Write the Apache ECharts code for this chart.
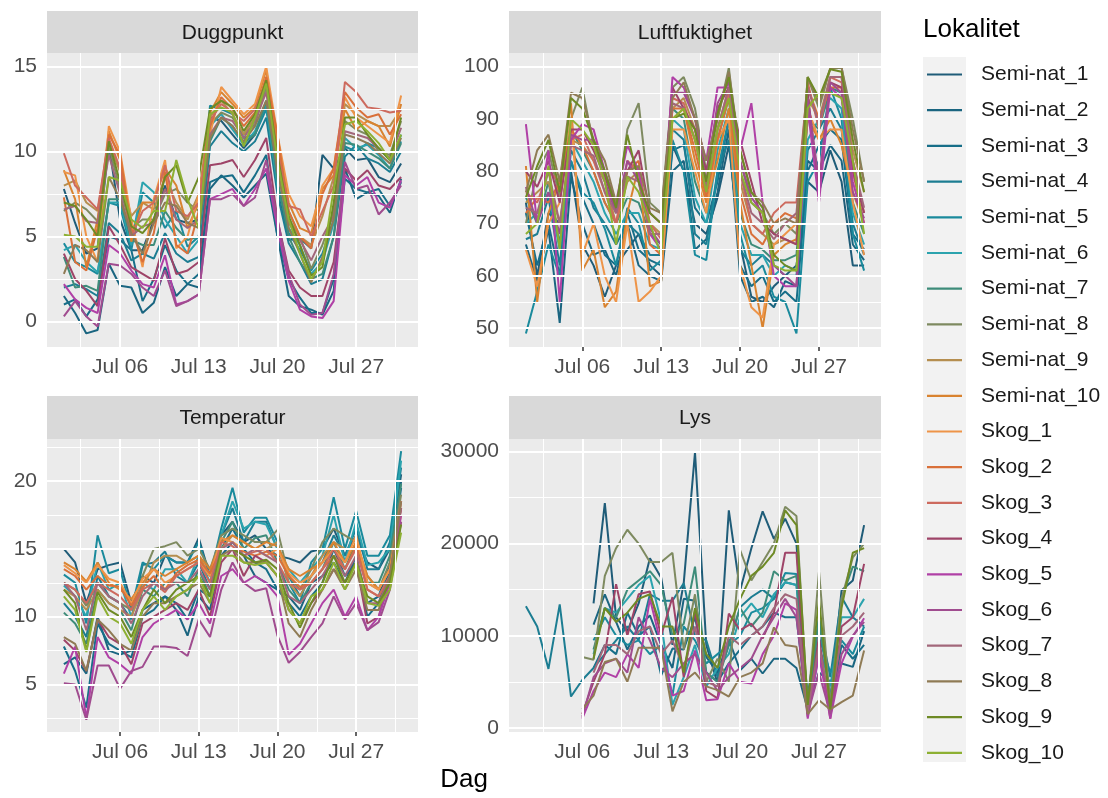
<!DOCTYPE html>
<html><head><meta charset="utf-8">
<script src="https://cdn.jsdelivr.net/npm/echarts@6/dist/echarts.min.js"></script>
<style>html,body{margin:0;padding:0;background:#fff}#c{width:1108px;height:798px}</style>
</head><body><div id="c"></div>
<script>
const DAYS = [1,2,3,4,5,6,7,8,9,10,11,12,13,14,15,16,17,18,19,20,21,22,23,24,25,26,27,28,29,30,31];
const SITES = ['Semi-nat_1','Semi-nat_2','Semi-nat_3','Semi-nat_4','Semi-nat_5','Semi-nat_6','Semi-nat_7','Semi-nat_8','Semi-nat_9','Semi-nat_10','Skog_1','Skog_2','Skog_3','Skog_4','Skog_5','Skog_6','Skog_7','Skog_8','Skog_9','Skog_10'];
const COLORS = ['#1F5C78','#1A6580','#176E88','#1C7D92','#1A8A9C','#2BA3AE','#3E8C7A','#7E8A60','#B58E4F','#D98330','#EE9448','#D9703A','#CD6A5E','#9E4468','#B040A6','#A04C8F','#A2677A','#8F7B55','#6E8A25','#8DB032'];
const PANELS = ['Duggpunkt','Luftfuktighet','Temperatur','Lys'];
const X_TICKS = [6,13,20,27];
const X_TICK_LABELS = ['Jul 06','Jul 13','Jul 20','Jul 27'];
const X_MINOR = [2.5,9.5,16.5,23.5,30.5];
const Y_TICKS_DP = [0,5,10,15];
const Y_TICKS_LF = [50,60,70,80,90,100];
const Y_TICKS_TP = [5,10,15,20];
const Y_TICKS_LY = [0,10000,20000,30000];
const Y_MINOR_DP = [2.5,7.5,12.5];
const Y_MINOR_LF = [55,65,75,85,95];
const Y_MINOR_TP = [2.5,7.5,12.5,17.5,22.5];
const Y_MINOR_LY = [5000,15000,25000];

// Duggpunkt
const DP_SN1 = [7.8,5.8,4.0,4.3,10.4,6.0,4.2,4.2,6.0,8.0,6.0,5.8,6.0,12.0,11.8,11.0,10.2,11.0,12.8,8.0,4.8,4.9,4.3,9.8,9.0,10.2,9.5,9.6,8.5,8.2,9.3];
const DP_SN2 = [1.5,0.5,-0.7,-0.5,3.4,2.1,2.0,0.5,1.1,3.2,1.5,2.2,2.0,7.8,8.6,8.0,7.3,8.0,8.7,5.0,1.5,0.9,0.7,0.4,1.8,9.0,7.2,7.6,7.4,6.4,8.4];
const DP_SN3 = [1.0,1.3,0.3,1.3,5.0,4.8,4.2,1.2,2.5,4.5,3.0,2.2,2.8,8.2,8.5,8.6,7.6,8.6,9.8,5.0,2.5,1.4,0.5,0.5,2.5,8.4,7.8,7.6,7.8,6.8,8.2];
const DP_SN4 = [2.0,2.2,1.9,1.5,5.8,5.2,3.6,4.0,3.7,5.2,4.0,3.5,3.8,10.3,11.2,10.5,10.0,10.6,12.0,7.5,4.6,3.5,2.2,2.5,5.0,9.7,10.4,9.6,9.3,8.8,10.0];
const DP_SN5 = [4.6,3.5,3.2,2.8,7.0,6.8,4.2,7.6,7.0,5.5,6.5,4.4,5.0,12.7,12.5,12.2,10.8,11.0,12.5,8.2,5.2,4.2,3.0,4.0,6.0,10.3,10.0,10.5,10.2,9.5,10.6];
const DP_SN6 = [4.2,4.5,3.5,2.9,7.0,7.0,4.5,8.2,7.6,6.0,5.0,4.0,4.8,11.5,12.2,11.3,10.4,11.2,12.8,8.0,5.5,4.5,2.8,3.5,5.8,10.8,10.2,10.4,9.8,9.0,11.0];
const DP_SN7 = [3.8,2.0,2.1,1.8,7.2,7.2,4.8,4.5,4.5,6.5,5.5,4.8,5.0,10.6,12.0,11.5,10.5,11.0,13.0,8.3,5.0,3.5,2.5,2.8,5.0,10.5,10.4,10.0,9.6,9.0,10.5];
const DP_SN8 = [6.5,7.0,6.6,5.9,10.3,7.8,5.5,6.0,6.0,7.5,7.8,7.0,6.5,11.6,12.3,12.0,11.0,11.6,13.8,9.5,6.5,5.0,3.1,4.5,6.5,11.8,11.3,11.0,10.0,9.8,11.8];
const DP_SN9 = [8.0,8.3,7.0,6.5,10.5,8.8,6.2,7.0,6.6,8.5,7.0,6.0,7.5,12.0,13.0,12.2,11.0,12.0,14.2,10.2,6.0,5.0,4.5,6.2,8.5,12.8,12.2,11.8,11.5,11.5,12.5];
const DP_SN10 = [8.9,7.2,3.2,6.0,11.2,9.5,4.7,7.0,7.0,9.0,8.0,5.5,7.0,12.3,13.5,12.8,12.0,12.6,14.8,10.5,7.0,5.5,5.2,7.8,8.6,12.5,11.3,11.8,11.5,10.3,12.8];
const DP_SK1 = [8.8,8.6,5.0,3.5,11.5,10.0,6.0,3.2,7.2,9.5,4.3,5.0,7.5,11.0,13.8,13.0,12.2,12.8,15.0,11.0,7.5,6.2,5.6,8.0,9.0,13.2,12.0,11.5,11.0,10.5,13.3];
const DP_SK2 = [7.3,3.5,3.0,5.5,11.0,9.8,5.5,3.5,5.2,8.8,4.5,4.0,6.5,11.5,13.2,12.5,11.5,12.3,14.4,11.0,6.5,5.0,4.3,7.5,9.0,13.5,12.6,12.0,12.2,11.0,12.2];
const DP_SK3 = [9.9,8.0,7.3,6.6,10.8,9.0,5.0,6.5,7.0,9.2,6.5,6.2,7.0,11.8,12.8,12.3,11.8,12.5,14.0,10.0,6.8,6.6,5.0,6.5,8.0,14.1,13.5,12.6,12.5,12.3,12.4];
const DP_SK4 = [4.0,2.5,1.8,0.9,5.6,4.5,3.2,2.8,2.4,4.9,2.8,3.0,3.5,9.2,9.3,9.5,8.5,9.5,10.8,6.0,3.0,2.0,1.5,1.5,3.5,9.0,8.3,8.9,8.0,7.8,8.5];
const DP_SK5 = [2.2,1.3,0.8,0.5,4.5,4.0,3.0,2.2,2.0,3.9,1.0,1.2,1.6,7.2,7.5,7.8,6.8,7.8,9.0,5.5,2.4,0.7,0.3,0.2,1.2,8.6,8.0,8.5,7.0,6.7,8.3];
const DP_SK6 = [0.3,1.2,0.3,-0.3,3.4,3.3,2.8,2.0,1.5,3.0,0.9,1.2,1.6,7.2,7.2,7.5,6.8,7.3,9.5,6.0,2.8,1.0,0.4,0.5,2.8,9.4,7.8,8.0,6.3,7.0,8.0];
const DP_SK7 = [6.6,6.8,5.9,5.8,9.8,7.5,5.0,5.6,5.8,7.8,6.0,5.5,6.0,11.0,12.0,11.8,10.8,11.8,13.5,8.8,5.8,4.8,3.6,5.0,6.2,11.2,11.0,10.8,10.2,9.6,11.4];
const DP_SK8 = [2.8,4.5,4.2,3.5,8.5,7.2,5.2,4.0,5.8,7.0,6.8,5.8,5.5,10.8,12.0,11.5,10.6,11.5,13.0,9.0,5.5,4.0,2.3,3.8,6.0,11.0,10.8,10.5,9.9,9.3,10.8];
const DP_SK9 = [7.0,6.8,6.0,5.0,10.6,8.2,5.6,5.2,6.0,8.5,9.2,7.0,8.5,12.5,13.0,12.6,11.2,12.2,14.2,9.8,6.2,4.5,2.7,3.2,7.0,12.0,12.0,11.0,10.2,9.5,12.0];
const DP_SK10 = [5.1,5.0,4.4,4.4,8.5,8.3,6.0,5.5,6.5,6.5,9.5,7.2,5.5,12.2,12.6,12.3,10.3,12.0,14.0,9.5,6.0,4.0,2.5,3.5,7.8,11.6,11.8,11.2,10.5,9.5,11.0];

// Luftfuktighet
const LF_SN1 = [74,60,72,70,80,66,62,56,62,65,68,62,60,85,80,70,68,75,85,66,56,55,58,60,62,78,76,84,78,62,62];
const LF_SN2 = [66,59,69,51,79,70,64,65,60,70,62,60,59,80,82,65,67,76,88,60,55,56,54,59,58,82,80,85,82,66,63];
const LF_SN3 = [72,62,70,60,82,75,70,64,62,72,65,63,62,84,85,73,70,78,90,62,58,60,55,57,55,80,85,88,86,68,65];
const LF_SN4 = [67,68,75,62,84,80,73,70,66,70,68,64,64,88,86,68,66,80,86,65,62,64,62,60,60,84,88,92,88,70,64];
const LF_SN5 = [49,57,66,60,82,76,74,69,62,73,70,61,63,86,80,64,63,80,90,68,60,62,56,55,49,78,82,96,90,68,61];
const LF_SN6 = [70,72,76,65,86,82,78,72,68,72,72,66,65,90,88,75,70,84,92,70,64,64,60,62,61,86,90,94,92,72,66];
const LF_SN7 = [75,70,78,66,88,84,80,74,70,75,74,68,66,92,90,78,72,86,94,72,66,65,63,63,64,90,88,96,95,74,68];
const LF_SN8 = [70,80,84,75,90,96,85,80,72,88,93,74,72,96,98,92,80,90,99.8,82,74,72,68,70,68,98,92,99.6,99.8,90,78];
const LF_SN9 = [74,76,78,70,86,85,82,78,70,78,80,70,68,92,94,88,76,88,96,78,70,68,66,67,66,94,90,98,98,84,76];
const LF_SN10 = [81,55,72,78,93,61,65,54,57,72,81,58,59,90,92,82,74,82,92,74,62,50,64,66,67,90,86,90,85,76,70];
const LF_SK1 = [65,58,70,74,90,64,70,60,55,70,55,57,60,88,88,80,72,86,90,62,54,52,66,68,70,92,86,88,88,74,64];
const LF_SK2 = [72,75,74,78,88,85,80,74,70,80,82,66,64,92,92,84,75,86,94,76,68,66,70,72,71,96,90,96,96,80,70];
const LF_SK3 = [76,74,80,78,86,87,82,76,70,82,80,70,67,94,93,86,76,88,95,80,70,68,72,74,74,97,88,98,97,82,72];
const LF_SK4 = [80,77,82,74,88,88,84,79,73,80,84,72,70,96,92,88,80,92,96,86,78,70,68,67,66,95,76,97,96,80,72];
const LF_SK5 = [89,70,84,55,86,89,88,80,74,85,80,68,65,98,96,90,82,96,96,84,93,74,60,58,58,92,74,96,94,78,70];
const LF_SK6 = [77,70,76,68,87,86,86,78,72,82,78,69,66,95,95,90,78,93,97,82,75,72,62,60,58,94,78,97,95,76,71];
const LF_SK7 = [73,72,80,70,85,84,83,76,72,79,78,68,68,93,92,86,77,88,96,80,72,70,67,70,72,96,89,98,98,82,73];
const LF_SK8 = [76,84,87,78,95,94,86,82,74,80,81,73,72,94,97,90,82,90,99,84,76,74,70,71,70,98,93,99.7,99.9,88,78];
const LF_SK9 = [75,81,86,76,94,92,86,80,73,87,78,72,70,90,91,88,78,91,98,84,76,73,64,62,61,98,94,99.5,99,86,76];
const LF_SK10 = [68,70,81,65,90,88,85,78,66,79,76,70,64,90,92,86,76,88,94,80,74,72,62,61,61,92,95,95,94,82,68];

// Temperatur
const TP_SN1 = [15.0,14.0,11.0,13.5,13.8,14.0,11.0,13.0,12.5,14.5,14.0,14.0,15.8,13.0,16.0,17.0,15.5,16.0,15.0,14.5,14.3,14.0,14.8,15.0,16.5,14.5,16.0,14.0,13.5,15.0,20.5];
const TP_SN2 = [6.5,7.0,5.8,10.0,7.5,7.2,7.5,10.5,11.0,11.5,10.5,8.6,11.5,10.5,14.5,15.5,14.5,13.0,12.5,12.0,11.5,10.5,12.5,13.0,14.0,12.5,14.5,11.0,11.5,14.0,20.0];
const TP_SN3 = [7.8,6.0,3.3,9.5,8.0,7.5,7.0,10.0,10.5,11.5,11.0,9.8,12.0,11.5,15.0,16.5,15.0,14.0,13.5,12.0,11.0,10.0,11.5,12.5,15.0,13.0,14.0,10.0,11.0,13.5,19.5];
const TP_SN4 = [11.0,10.0,8.5,13.0,11.5,11.0,9.8,13.8,14.0,14.8,13.0,12.5,14.0,12.0,16.0,18.0,15.5,17.0,17.0,15.0,13.0,11.5,13.0,14.0,16.0,14.5,16.5,13.5,13.5,15.5,21.0];
const TP_SN5 = [13.1,12.5,9.5,16.0,13.2,13.5,10.5,14.0,13.5,14.5,14.0,14.0,15.5,13.0,16.5,19.5,16.2,17.3,17.3,15.5,12.5,11.0,14.0,15.0,18.8,15.0,17.8,14.5,14.5,16.0,22.2];
const TP_SN6 = [12.3,11.5,10.0,14.0,12.0,12.5,10.0,12.5,12.0,13.5,13.5,12.5,14.5,12.5,16.0,18.5,16.5,17.0,16.8,15.0,13.5,12.5,13.5,14.5,17.5,14.0,17.0,13.8,14.0,15.0,21.5];
const TP_SN7 = [10.3,9.5,8.0,12.0,11.0,10.5,9.0,12.0,11.5,12.5,12.5,11.5,13.5,11.5,15.5,17.0,15.0,15.8,16.0,14.0,12.0,11.0,12.5,13.5,15.5,13.5,15.5,12.5,12.5,14.5,19.8];
const TP_SN8 = [12.5,12.0,10.8,12.5,11.5,11.0,10.5,13.0,15.0,15.2,15.5,14.5,15.0,13.5,16.0,16.5,16.0,15.5,15.5,16.4,13.0,12.0,13.5,15.5,16.5,16.0,15.5,13.0,12.0,14.0,19.0];
const TP_SN9 = [12.0,11.5,10.5,12.0,11.0,10.5,10.0,12.0,14.0,14.5,14.5,14.0,14.5,13.0,15.0,16.0,15.5,15.0,15.0,15.5,12.5,11.5,13.0,14.5,15.5,15.0,15.0,12.5,12.0,13.5,18.5];
const TP_SN10 = [14.0,13.5,12.6,14.0,12.5,12.0,11.3,12.5,13.5,13.0,13.5,14.0,14.5,13.5,15.5,16.0,15.5,15.0,15.5,15.2,13.5,13.0,13.5,14.0,15.5,14.0,15.5,13.0,12.0,13.5,18.0];
const TP_SK1 = [13.8,13.2,12.5,13.8,12.8,12.5,11.0,12.8,13.5,12.5,13.0,13.5,14.0,13.0,15.8,15.5,15.0,15.0,14.5,15.0,13.2,12.5,13.0,14.0,15.0,14.0,16.0,12.5,12.0,13.5,17.5];
const TP_SK2 = [13.5,13.0,12.0,13.0,12.3,12.2,10.8,12.2,13.0,12.0,13.2,13.8,14.2,13.2,15.0,15.0,14.8,14.5,14.8,14.5,13.0,12.2,12.5,13.5,14.5,13.5,15.2,12.0,11.5,13.0,17.0];
const TP_SK3 = [12.5,12.0,11.0,12.5,12.0,11.5,10.5,12.0,12.5,11.8,13.0,13.5,14.0,12.5,15.5,15.2,14.5,14.8,15.0,14.0,12.5,12.0,12.5,13.5,15.0,13.5,15.0,12.0,11.5,13.0,18.5];
const TP_SK4 = [8.3,7.5,6.0,9.8,8.5,8.0,6.5,9.5,10.0,10.5,11.0,10.5,12.0,10.0,14.0,15.0,13.0,14.5,14.0,13.0,10.5,9.5,11.0,12.0,13.5,12.5,14.0,9.5,10.0,13.0,18.0];
const TP_SK5 = [5.8,7.8,2.5,8.5,7.0,6.5,5.8,8.5,9.5,10.0,10.5,9.8,11.0,9.5,13.0,13.5,12.5,13.0,12.5,11.5,7.2,8.0,9.5,11.0,12.0,10.0,11.5,9.0,10.0,12.5,17.5];
const TP_SK6 = [5.1,5.0,2.4,6.4,6.4,4.7,6.0,6.3,7.8,7.8,7.7,7.1,9.8,8.5,12.0,14.0,12.5,11.9,12.1,8.6,6.6,7.4,8.5,9.5,11.5,9.8,11.0,9.0,9.6,12.0,17.0];
const TP_SK7 = [12.5,11.5,9.0,12.5,11.5,11.0,9.5,11.5,12.5,12.0,12.5,12.5,13.5,12.0,15.0,15.5,14.5,15.0,14.5,14.0,11.5,11.0,12.0,13.0,14.5,13.0,14.5,11.0,11.0,13.0,18.0];
const TP_SK8 = [8.5,8.0,6.0,9.8,9.0,8.0,7.5,10.0,11.0,11.0,11.5,12.0,12.5,11.0,14.5,15.0,14.0,14.0,14.0,13.0,9.5,8.5,10.5,12.0,13.5,12.0,13.5,10.5,10.5,13.0,18.5];
const TP_SK9 = [12.0,11.0,7.5,11.8,10.5,10.0,8.5,10.5,12.0,11.0,12.0,12.5,13.0,11.5,15.0,15.0,14.5,14.0,14.2,13.5,11.0,9.2,11.0,12.5,14.5,12.5,14.0,11.5,11.0,12.5,16.8];
const TP_SK10 = [11.5,10.5,7.4,11.5,10.0,9.5,8.0,10.5,11.5,10.5,11.5,12.0,13.0,11.0,14.5,14.5,14.0,13.8,14.0,13.0,10.5,9.5,11.5,12.0,14.0,12.0,14.0,11.0,10.8,12.0,16.2];

// Lys (null = no measurement that day)
const LY_SN1 = [null,null,null,null,null,null,13500,24400,12000,10500,13500,18400,16300,9000,15700,29900,9000,4800,23600,14900,19500,23500,20500,22700,20000,2000,12000,3000,14900,16000,22000];
const LY_SN2 = [null,null,null,null,null,null,11200,14500,11500,8500,11000,12200,9000,6500,14000,13800,7700,6000,9600,6250,7500,5900,7500,7500,6500,2000,6000,5000,6980,6620,10500];
const LY_SN3 = [null,null,null,null,null,null,6500,9000,8000,12500,10000,11000,5700,8600,8500,12000,6000,5000,7000,8500,10000,11000,12500,12000,12000,1500,8000,2000,9000,7500,9000];
const LY_SN4 = [13200,11000,6400,13400,3400,5200,6500,8000,9500,11000,9500,14500,13800,13800,15700,10000,9500,5500,9000,13100,14200,15000,14000,15800,15500,3500,11700,5500,14200,12000,11000];
const LY_SN5 = [null,null,null,null,null,null,9500,12000,10000,9000,9500,8000,9000,3500,11000,9500,7000,8000,9000,10000,12500,13000,14000,16800,16700,3000,9800,6000,9500,8000,11000];
const LY_SN6 = [null,null,null,null,null,null,8000,13000,12500,14000,15500,16500,11500,2500,5500,9000,4500,6500,8000,12000,13500,12000,14500,15800,15500,2500,9000,4500,12000,12000,14000];
const LY_SN7 = [null,null,null,null,null,null,8500,13000,12000,15000,16000,17000,15500,10000,11300,17500,6000,5000,9000,13000,11000,12500,17000,16000,16500,1500,12000,3000,14000,17500,17000];
const LY_SN8 = [null,null,null,null,null,7700,7400,16500,19500,21500,20000,18000,18000,19000,8500,14500,5000,7500,5000,19300,16000,18000,20000,24000,23000,2000,17000,2500,14000,18500,20000];
const LY_SN9 = [];
const LY_SN10 = [];
const LY_SK1 = [];
const LY_SK2 = [];
const LY_SK3 = [];
const LY_SK4 = [null,null,null,null,null,1500,5000,8000,15600,10000,14500,14800,10000,14200,5500,12700,4000,3200,12400,10600,11300,9700,12500,19000,19000,1200,9900,1000,11000,12000,17800];
const LY_SK5 = [null,null,null,null,null,1000,4000,6000,5500,8000,6500,14000,9000,3500,4000,8400,3000,3100,7000,5000,4800,8000,10000,13500,12800,1000,8000,1000,7000,9900,11900];
const LY_SK6 = [null,null,null,null,null,1200,5500,7000,7500,6000,12000,9500,6500,5500,7000,8000,6000,4000,5500,6500,7500,10000,12000,14000,12000,1500,6000,1500,8000,10000,11500];
const LY_SK7 = [null,null,null,null,null,null,6000,9000,9000,8000,10500,11000,8000,9500,6500,11000,5000,4500,10000,9000,10000,11000,13000,14500,14000,1800,9000,2500,10000,11000,12500];
const LY_SK8 = [null,null,null,null,null,2000,3500,7150,7500,5000,8700,8700,8700,1800,5000,6000,4500,4100,3400,5500,6000,7000,10900,9000,8800,1500,3000,2000,2800,3500,8400];
const LY_SK9 = [null,null,null,null,null,null,7500,13000,11500,12500,14000,14500,11000,11000,6000,13000,8000,6500,11000,14000,16500,17500,19000,23600,22000,2500,14000,2000,13000,19000,19500];
const LY_SK10 = [];

const DP = [DP_SN1,DP_SN2,DP_SN3,DP_SN4,DP_SN5,DP_SN6,DP_SN7,DP_SN8,DP_SN9,DP_SN10,DP_SK1,DP_SK2,DP_SK3,DP_SK4,DP_SK5,DP_SK6,DP_SK7,DP_SK8,DP_SK9,DP_SK10];
const LF = [LF_SN1,LF_SN2,LF_SN3,LF_SN4,LF_SN5,LF_SN6,LF_SN7,LF_SN8,LF_SN9,LF_SN10,LF_SK1,LF_SK2,LF_SK3,LF_SK4,LF_SK5,LF_SK6,LF_SK7,LF_SK8,LF_SK9,LF_SK10];
const TP = [TP_SN1,TP_SN2,TP_SN3,TP_SN4,TP_SN5,TP_SN6,TP_SN7,TP_SN8,TP_SN9,TP_SN10,TP_SK1,TP_SK2,TP_SK3,TP_SK4,TP_SK5,TP_SK6,TP_SK7,TP_SK8,TP_SK9,TP_SK10];
const LY = [LY_SN1,LY_SN2,LY_SN3,LY_SN4,LY_SN5,LY_SN6,LY_SN7,LY_SN8,LY_SN9,LY_SN10,LY_SK1,LY_SK2,LY_SK3,LY_SK4,LY_SK5,LY_SK6,LY_SK7,LY_SK8,LY_SK9,LY_SK10];

const PANEL_VALUES = [DP, LF, TP, LY];
const Y_TICKS = [Y_TICKS_DP, Y_TICKS_LF, Y_TICKS_TP, Y_TICKS_LY];
const Y_MINOR = [Y_MINOR_DP, Y_MINOR_LF, Y_MINOR_TP, Y_MINOR_LY];
const Y_RANGE = [[-1.5, 15.8], [46.4, 102.6], [1.5, 23.1], [-450, 31350]];
const X_RANGE = [-0.5, 32.5];

const FONT = '"Liberation Sans", Arial, Helvetica, sans-serif';
const GRIDS = [
  {left: 47, top: 53, width: 371, height: 294},
  {left: 509, top: 53, width: 372, height: 294},
  {left: 47, top: 439, width: 371, height: 293},
  {left: 509, top: 439, width: 372, height: 293}
];

const chart = echarts.init(document.getElementById('c'), null, {renderer: 'canvas'});

const grid = GRIDS.map(g => Object.assign({show: true, backgroundColor: '#EBEBEB', borderWidth: 0, containLabel: false}, g));

const xAxis = GRIDS.map((g, p) => ({
  type: 'value', gridIndex: p, min: X_RANGE[0], max: X_RANGE[1],
  axisLine: {show: false}, splitLine: {show: false}, minorSplitLine: {show: false},
  axisTick: {show: true, customValues: X_TICKS, length: 4, lineStyle: {color: '#333333', width: 1.5}},
  axisLabel: {show: true, customValues: X_TICKS, formatter: v => X_TICK_LABELS[X_TICKS.indexOf(v)],
    color: '#4D4D4D', fontSize: 21, fontFamily: FONT, margin: 10}
}));

const yAxis = GRIDS.map((g, p) => ({
  type: 'value', gridIndex: p, min: Y_RANGE[p][0], max: Y_RANGE[p][1],
  axisLine: {show: false}, splitLine: {show: false}, minorSplitLine: {show: false},
  axisTick: {show: true, customValues: Y_TICKS[p], length: 4, lineStyle: {color: '#333333', width: 1.5}},
  axisLabel: {show: true, customValues: Y_TICKS[p], formatter: v => String(v),
    color: '#4D4D4D', fontSize: 21, fontFamily: FONT, margin: 10}
}));

const series = [];
for (let p = 0; p < 4; p++) {
  const ml = [];
  X_TICKS.forEach(v => ml.push({xAxis: v, lineStyle: {color: '#FFFFFF', width: 2, type: 'solid'}}));
  X_MINOR.forEach(v => ml.push({xAxis: v, lineStyle: {color: '#FFFFFF', width: 1, type: 'solid'}}));
  Y_TICKS[p].forEach(v => ml.push({yAxis: v, lineStyle: {color: '#FFFFFF', width: 2, type: 'solid'}}));
  Y_MINOR[p].forEach(v => ml.push({yAxis: v, lineStyle: {color: '#FFFFFF', width: 1, type: 'solid'}}));
  series.push({
    type: 'line', name: '_grid' + p, xAxisIndex: p, yAxisIndex: p, data: [], z: 1,
    silent: true, animation: false,
    markLine: {silent: true, animation: false, symbol: ['none', 'none'], label: {show: false},
      emphasis: {disabled: true}, data: ml}
  });
  for (let s = 0; s < SITES.length; s++) {
    const vals = PANEL_VALUES[p][s];
    series.push({
      type: 'line', name: SITES[s], xAxisIndex: p, yAxisIndex: p, z: 2,
      symbol: 'none', showSymbol: false, color: COLORS[s], animation: false,
      lineStyle: {width: 2, color: COLORS[s]},
      emphasis: {disabled: true},
      data: vals.map((v, i) => [DAYS[i], v])
    });
  }
}

const graphic = [
  {type: 'rect', shape: {x: 923, y: 57, width: 43, height: 705}, style: {fill: '#F2F2F2'}, z: 0, silent: true},
  {type: 'text', x: 923, y: 17, style: {text: 'Lokalitet', font: '26px ' + FONT, fill: '#000000', textAlign: 'left', textVerticalAlign: 'top'}, silent: true},
  {type: 'text', x: 464, y: 767, style: {text: 'Dag', font: '26px ' + FONT, fill: '#000000', textAlign: 'center', textVerticalAlign: 'top'}, silent: true}
];
const STRIPS = [
  {x: 47, y: 11, w: 371, h: 42},
  {x: 509, y: 11, w: 372, h: 42},
  {x: 47, y: 396, w: 371, h: 43},
  {x: 509, y: 396, w: 372, h: 43}
];
STRIPS.forEach((st, p) => {
  graphic.push({type: 'rect', shape: {x: st.x, y: st.y, width: st.w, height: st.h}, style: {fill: '#D9D9D9'}, silent: true});
  graphic.push({type: 'text', x: st.x + st.w / 2, y: st.y + st.h / 2 + 1,
    style: {text: PANELS[p], font: '21px ' + FONT, fill: '#1A1A1A', textAlign: 'center', textVerticalAlign: 'middle'}, silent: true});
});

chart.setOption({
  animation: false,
  backgroundColor: '#FFFFFF',
  textStyle: {fontFamily: FONT},
  grid, xAxis, yAxis, series, graphic,
  legend: {
    orient: 'vertical', left: 927, top: 64, padding: 0,
    icon: 'rect', itemWidth: 35, itemHeight: 2.2, itemGap: 14.7,
    data: SITES, selectedMode: false,
    textStyle: {fontSize: 21, color: '#1A1A1A', fontFamily: FONT, padding: [0, 0, 0, 14]}
  }
});
</script>
</body></html>
